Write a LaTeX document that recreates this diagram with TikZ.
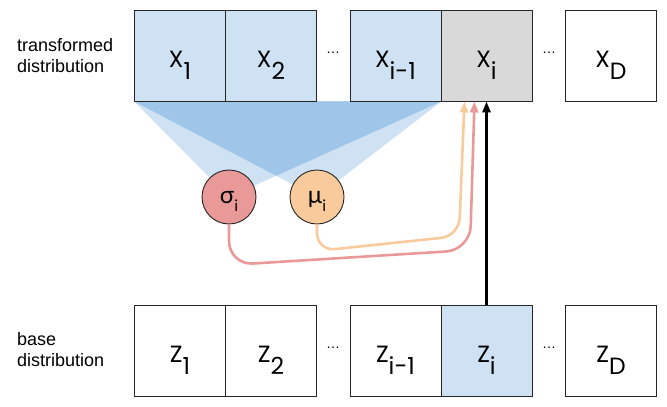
\documentclass[tikz,border=0pt]{standalone}
\usepackage{fontspec}
\setmainfont{Liberation Sans}
\newfontfamily\cellfont{Poppins}
\newfontfamily\greekfont{Lato}
\usetikzlibrary{arrows.meta,backgrounds}

\definecolor{lightblue}{HTML}{CFE2F3}
\definecolor{midblue}{HTML}{9FC5E8}
\definecolor{cellgray}{HTML}{D9D9D9}
\definecolor{sigred}{HTML}{EA9999}
\definecolor{muorange}{HTML}{F9CB9C}

\newcommand{\lowidx}[1]{\raisebox{-12pt}{#1}}
\newcommand{\paridx}[1]{\raisebox{-8pt}{\fontsize{16}{16}\selectfont #1}}

\tikzset{
  cell/.style={draw=black!85, line width=0.9pt, minimum width=91pt, minimum height=91pt,
    inner sep=0pt, text height=33pt, text depth=9pt, font=\cellfont\fontsize{23.5}{24}\selectfont},
  param/.style={circle, draw=black!85, line width=0.9pt, minimum size=54pt, inner sep=0pt,
    text height=12pt, text depth=0pt, font=\greekfont\fontsize{24}{24}\selectfont},
  side/.style={align=left, anchor=west, inner sep=0pt, font=\fontsize{18}{21}\selectfont},
  gap/.style={font=\fontsize{14}{14}\selectfont},
  flow/.style={line width=2.6pt, -{Triangle[length=11pt,width=8pt]}}
}

\begin{document}
\begin{tikzpicture}[x=1pt,y=-1pt]
\useasboundingbox (0,0) rectangle (667,407);

% transformed row
\node[side] (toplabel) at (17,56) {transformed\\distribution};
\node[cell, fill=lightblue] (x1) at (180,55.5) {X\lowidx{1}};
\node[cell, fill=lightblue] (x2) at (271,55.5) {X\lowidx{2}};
\node[gap] (xdots1) at (333,53) {\dots};
\node[cell, fill=lightblue] (xim1) at (395.5,55.5) {X\lowidx{i-1}};
\node[cell, fill=cellgray] (xi) at (486.5,55.5) {X\lowidx{i}};
\node[gap] (xdots2) at (549,53) {\dots};
\node[cell] (xD) at (611,55.5) {X\lowidx{D}};

% base row
\node[side] (botlabel) at (17,350) {base\\distribution};
\node[cell] (z1) at (180,350.5) {Z\lowidx{1}};
\node[cell] (z2) at (271,350.5) {Z\lowidx{2}};
\node[gap] (zdots1) at (333,348) {\dots};
\node[cell] (zim1) at (395.5,350.5) {Z\lowidx{i-1}};
\node[cell, fill=lightblue] (zi) at (486.5,350.5) {Z\lowidx{i}};
\node[gap] (zdots2) at (549,348) {\dots};
\node[cell] (zD) at (611,350.5) {Z\lowidx{D}};

% parameters
\node[param, fill=sigred] (sig) at (229,197) {σ\paridx{i}};
\node[param, fill=muorange] (mu) at (317,197) {μ\paridx{i}};

\begin{scope}[on background layer]
  \fill[lightblue] (x1.south west) -- (xim1.south east) -- (sig.center) -- cycle;
  \fill[lightblue] (x1.south west) -- (xim1.south east) -- (mu.center) -- cycle;
  \fill[midblue] (x1.south west) -- (xim1.south east)
    -- (intersection of x1.south west--mu.center and xim1.south east--sig.center) -- cycle;
\end{scope}

\coordinate (muend) at ([xshift=-22pt]xi.south);
\coordinate (sigend) at ([xshift=-12pt]xi.south);
\draw[flow, muorange, rounded corners=18pt] (mu.south) -- (317,251) -- (459,236) -- (muend);
\draw[flow, sigred, rounded corners=24pt] (sig.south) -- (229,265) -- (470,250) -- (sigend);
\draw[flow, black] (zi.north) -- (xi.south);
\end{tikzpicture}
\end{document}
